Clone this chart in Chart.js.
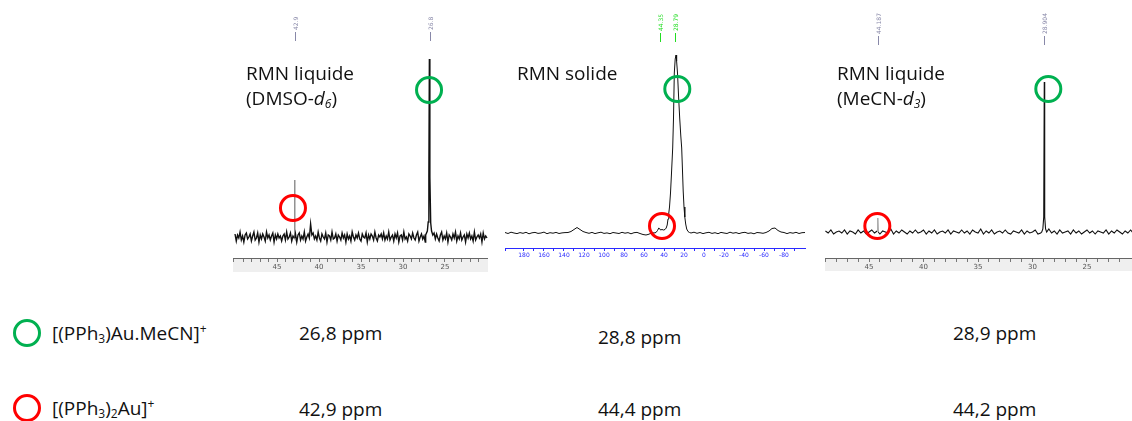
<!DOCTYPE html>
<html>
<head>
<meta charset="utf-8">
<script src="https://cdn.jsdelivr.net/npm/chart.js@4.4.1/dist/chart.umd.min.js"></script>
<style>
  body { margin: 0; background: #fff; }
  #page { position: relative; width: 1132px; height: 421px; overflow: hidden; font-family: "Open Sans", sans-serif; color: #111; }
  canvas { position: absolute; }
  .t { position: absolute; font-size: 19px; line-height: 24px; white-space: nowrap; }
  .t sub { font-size: 12px; vertical-align: -3px; line-height: 0; }
  .t sup { font-size: 12px; vertical-align: 7px; line-height: 0; }
  .ring { position: absolute; width: 28px; height: 28px; box-sizing: border-box; border-radius: 50%; border: 3px solid; }
</style>
</head>
<body>
<div id="page">
  <canvas id="dmso" width="255" height="276" style="left:233px;top:0"></canvas>
  <canvas id="solid" width="301" height="262" style="left:505px;top:0"></canvas>
  <canvas id="mecn" width="307" height="276" style="left:825px;top:0"></canvas>

  <div class="t" style="left:246px;top:61px">RMN liquide</div>
  <div class="t" style="left:246px;top:86px">(DMSO-<i>d</i><sub><i>6</i></sub>)</div>
  <div class="t" style="left:517px;top:61px">RMN solide</div>
  <div class="t" style="left:837px;top:61px">RMN liquide</div>
  <div class="t" style="left:837px;top:86px">(MeCN-<i>d</i><sub><i>3</i></sub>)</div>

  <div class="ring" style="left:13px;top:319px;border-color:#00b050"></div>
  <div class="ring" style="left:13px;top:394px;border-color:#ff0000"></div>
  <div class="t" style="left:52px;top:321px">[(PPh<sub>3</sub>)Au.MeCN]<sup>+</sup></div>
  <div class="t" style="left:52px;top:396px">[(PPh<sub>3</sub>)<sub>2</sub>Au]<sup>+</sup></div>
  <div class="t" style="left:299px;top:321px">26,8 ppm</div>
  <div class="t" style="left:598px;top:325px">28,8 ppm</div>
  <div class="t" style="left:953px;top:321px">28,9 ppm</div>
  <div class="t" style="left:299px;top:397px">42,9 ppm</div>
  <div class="t" style="left:598px;top:397px">44,4 ppm</div>
  <div class="t" style="left:953px;top:397px">44,2 ppm</div>
</div>
<script>
// 31P spectra, ppm axis (reversed), intensities
// liquid DMSO-d6: baseline sampled every 0.15 ppm from 50 ppm
const dmsoStart = 50, dmsoStep = 0.15;
const dmsoNoise = [
  3,-4,2,-1,5,-3,1,-5,2,4,-2,0,3,-4,1,5,-3,-1,4,-5,
  2,-2,3,0,-4,5,-1,2,-3,1,4,-5,2,-2,3,-1,1,-4,1,3,
  -3,5,-2,0,4,-4,1,-1,3,-5,2,4,-3,1,-2,5,-4,0,3,-1,
  13,2,4,-2,1,-3,5,-1,-4,3,0,-2,4,-5,2,1,-3,5,-2,-1,
  3,-4,2,0,-3,4,-1,2,-5,3,-2,1,-4,5,0,-3,2,-1,4,-2,
  -4,3,0,-1,4,-5,2,-2,3,1,-3,5,-1,-4,2,0,3,-2,4,-3,
  1,-2,5,-3,0,2,-4,3,-1,4,-5,1,2,-3,5,-2,0,-4,3,1,
  -2,4,-1,-3,2,5,-4,0,3,-2,1,-5,0,0,0,0,0,0,4,-2,
  3,-1,-4,2,5,-3,1,-2,4,-5,2,0,-3,3,-1,5,-4,1,-2,4,
  -3,0,2,-5,3,-1,4,-2,1,-4,5,-3,0,2,-1,3,-5,4,-2,1,
  -1];
const dmsoPeakPpm = [42.93, 42.9, 42.87, 27.3, 27.1, 27.0, 26.92, 26.86, 26.8, 26.7, 26.6, 26.45];
const dmsoPeakInt = [0, 57, -1, 2, 6, 15, 60, 178, 60, 14, 6, 2];

// solid state: baseline every 3 ppm from 199 ppm
const solidStart = 199, solidStep = 3;
const solidNoise = [0.5,-0.5,0.8,0,-0.6,0.4,-0.3,0.7,-0.8,0.2, 0.6,-0.4,0,0.9,-0.7,0.3,-0.2,0.6,-0.5,0.1,
  0.4,0.5,1.5,3.5,5.5,3.5,1.5,0.5,-0.3,0.6, -0.6,0.2,0.8,-0.4,0.1,-0.7,0.5,0,-0.5,0.7,
  -0.2,0.4,-0.8,0.3,0.6,-0.5,-1.5,-2,-1.2,0.5, 0,0,0,0,0,0,0,0,0,0,
  0,0,0,0.8,-0.3,0.5,-0.6,0.2,0.7,-0.4, 0.3,-0.7,0.6,0,-0.5,0.8,-0.2,0.4,-0.6,0.3,
  0.7,-0.4,0.1,-0.8,0.5,0.2,-0.3,0.5,2,4.5, 5,2.5,1,0.5,-0.6,0.4,-0.2,0.7,-0.5,0.3, 0.5];
const solidPeakPpm = [50, 48, 46.5, 45.2, 44.4, 43.5, 42, 40.5, 39, 37.8, 36.8, 36, 35.2, 34.5, 33.5, 32.5, 31.3, 30.5, 29.7, 28.8,
  28, 27.4, 26.5, 25.5, 24.3, 23.2, 22.3, 21.5, 20.8, 20, 19.2, 18.3, 17.3, 16, 14.5, 13];
const solidPeakInt = [0, 0.5, 2.5, 5, 4.5, 3, 3.5, 3, 3.5, 5, 8, 14, 20, 26, 40, 60, 85, 115, 160, 174,
  178, 172, 160, 138, 115, 97, 85, 62, 42, 26, 16, 9, 4, 1.5, 0.5, 0];

// liquid MeCN-d3: baseline every 0.25 ppm from 49 ppm
const mecnStart = 49, mecnStep = 0.25;
const mecnNoise = [1,-1,2,-2,0,1,-1,2,-2,1, 0,-2,2,-1,1,-2,0,2,-1,1, -2,1,0,-1,3,-2,1,-1,2,0,
  -2,1,-1,2,-1,0,2,-2,1,-1, 2,-2,0,1,-1,2,-2,1,0,-1, 2,-1,1,-2,2,0,-1,3,-2,1,
  -1,2,-2,0,1,-1,2,-1,-2,1, 0,-1,2,-2,1,-1,0,2,-2,-1, 0,0,3,-1,1,-2,2,-1,0,1,
  -2,2,-1,1,-2,0,2,-1,1,-2, 1,0,-1,2,-2,1,-1,2,0,-2, 1,-1,2,-1];
const mecnPeakPpm = [44.22, 44.19, 44.16, 29.15, 29.05, 28.97, 28.92, 28.88, 28.8, 28.7];
const mecnPeakInt = [1, 14, 0, 0, 3, 15, 150, 15, 3, 0];

// peak picking labels at the top
const dmsoPicks = [42.9, 26.8];
const solidPicks = [44.35, 28.79];
const mecnPicks = [44.187, 28.904];

// marker circles [ppm, intensity, colour]
const dmsoCircles = [[26.9, 147, '#00b050'], [43.1, 29, '#ff0000']];
const solidCircles = [[26.7, 144, '#00b050'], [42, 7, '#ff0000']];
const mecnCircles = [[28.55, 143, '#00b050'], [44.24, 6, '#ff0000']];

function buildSeries(start, step, noise, pPpm, pInt, cutLo, cutHi) {
  const pts = noise.map((v, i) => ({x: start - i * step, y: v}))
    .filter(p => p.x < cutLo || p.x > cutHi);
  pPpm.forEach((p, i) => pts.push({x: p, y: pInt[i]}));
  return pts.sort((a, b) => b.x - a.x);
}

const annotate = {
  id: 'annotate',
  beforeDraw(chart, args, o) {
    if (!o.band) return;
    const ctx = chart.ctx;
    ctx.save();
    ctx.fillStyle = o.band;
    ctx.fillRect(0, chart.chartArea.bottom, chart.width, o.bandH);
    ctx.restore();
  },
  afterDatasetsDraw(chart, args, o) {
    const ctx = chart.ctx, xs = chart.scales.x, ys = chart.scales.y;
    ctx.save();
    (o.picks || []).forEach(p => {
      const px = Math.round(xs.getPixelForValue(p)) + 0.5;
      ctx.strokeStyle = o.pickColor;
      ctx.lineWidth = 1;
      ctx.beginPath();
      ctx.moveTo(px, o.lineTop);
      ctx.lineTo(px, o.lineTop + 9);
      ctx.stroke();
      ctx.save();
      ctx.translate(px + 2, o.lineTop - 2);
      ctx.rotate(-Math.PI / 2);
      ctx.fillStyle = o.pickColor;
      ctx.font = '6px "DejaVu Sans"';
      ctx.textAlign = 'left';
      ctx.fillText(String(p), 0, 0);
      ctx.restore();
    });
    (o.circles || []).forEach(c => {
      ctx.strokeStyle = c[2];
      ctx.lineWidth = 3;
      ctx.beginPath();
      ctx.arc(xs.getPixelForValue(c[0]), ys.getPixelForValue(c[1]), 12.5, 0, Math.PI * 2);
      ctx.stroke();
    });
    ctx.restore();
  }
};

// greyAbove: thin picked spikes away from the main peak are drawn lighter
function spectrum(id, data, xOpt, yMin, yMax, axisH, ann, greyAbove, lw) {
  return new Chart(document.getElementById(id), {
    type: 'line',
    data: { datasets: [{
      data: data, borderColor: '#111', borderWidth: lw, pointRadius: 0, tension: 0,
      segment: {
        borderColor: c => (greyAbove && c.p0.parsed.x > 35 &&
          (c.p0.parsed.y > greyAbove || c.p1.parsed.y > greyAbove) ? '#8a8a8a' : undefined)
      }
    }] },
    options: {
      responsive: false,
      animation: false,
      layout: { padding: 0 },
      plugins: { legend: { display: false }, tooltip: { enabled: false }, annotate: ann },
      scales: {
        x: Object.assign({
          type: 'linear',
          reverse: true,
          afterFit: s => { s.height = axisH; s.paddingLeft = 0; s.paddingRight = 0; }
        }, xOpt),
        y: { display: false, min: yMin, max: yMax }
      }
    },
    plugins: [annotate]
  });
}

const rulerGrey = {
  stepSize: 1, autoSkip: false, maxRotation: 0, padding: 1,
  font: { size: 7, family: 'DejaVu Sans' }, color: '#555',
  callback: v => (Math.abs(v % 5) < 1e-6 ? v : '')
};

spectrum('dmso',
  buildSeries(dmsoStart, dmsoStep, dmsoNoise, dmsoPeakPpm, dmsoPeakInt, 26.4, 27.3),
  { min: 19.88, max: 50.24, ticks: rulerGrey,
    grid: { drawOnChartArea: false, tickLength: 4, color: '#777' }, border: { color: '#666' } },
  -21, 237, 18,
  { band: '#efefef', bandH: 14, picks: dmsoPicks, pickColor: '#8888a8', lineTop: 32, circles: dmsoCircles }, 25, 1.4);

spectrum('solid',
  buildSeries(solidStart, solidStep, solidNoise, solidPeakPpm, solidPeakInt, 13, 50),
  { min: -102, max: 199,
    ticks: { stepSize: 10, autoSkip: false, maxRotation: 0, padding: 1,
      font: { size: 6, family: 'DejaVu Sans' }, color: '#2a2aff',
      callback: v => (v === -100 ? 'ppm' : (v % 20 === 0 ? v : '')) },
    grid: { drawOnChartArea: false, tickLength: 3, color: '#2a2aff' }, border: { color: '#2a2aff' } },
  -15, 233, 14,
  { picks: solidPicks, pickColor: '#22dd22', lineTop: 33, circles: solidCircles }, 0, 1);

spectrum('mecn',
  buildSeries(mecnStart, mecnStep, mecnNoise, mecnPeakPpm, mecnPeakInt, 28.7, 29.15),
  { min: 20.87, max: 49.04, ticks: rulerGrey,
    grid: { drawOnChartArea: false, tickLength: 4, color: '#777' }, border: { color: '#666' } },
  -26, 232, 18,
  { band: '#efefef', bandH: 13, picks: mecnPicks, pickColor: '#8888a8', lineTop: 36, circles: mecnCircles }, 8, 1.1);
</script>
</body>
</html>
